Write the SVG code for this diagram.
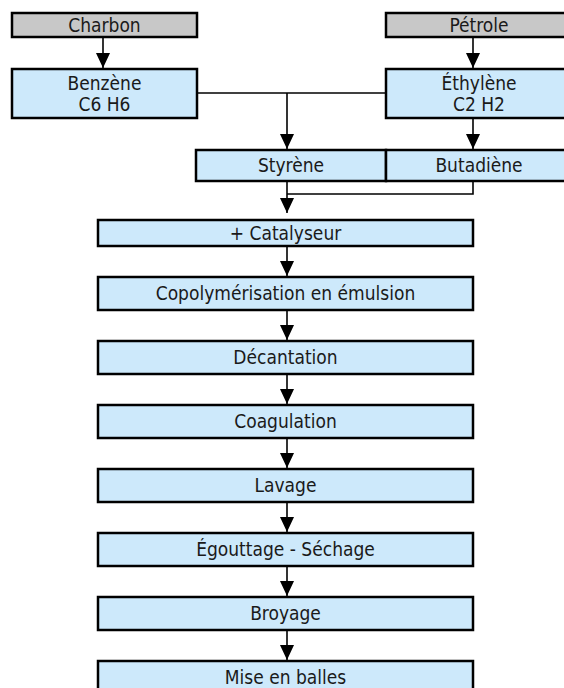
<svg xmlns="http://www.w3.org/2000/svg" width="564" height="688" viewBox="0 0 564 688">
  <style>
    .src { fill: #c8c8c8; stroke: #000; stroke-width: 2.5; }
    .step { fill: #cde9fb; stroke: #000; stroke-width: 2.5; }
    .lbl { font-family: "DejaVu Sans Condensed", "DejaVu Sans", "Liberation Sans", sans-serif; font-stretch: condensed; font-size: 19px; fill: #1a1a1a; text-anchor: middle; }
    .wire { fill: none; stroke: #000; stroke-width: 1.6; }
    .flow { fill: none; stroke: #000; stroke-width: 1.6; marker-end: url(#head); }
  </style>
  <defs>
    <marker id="head" markerUnits="userSpaceOnUse" markerWidth="15" markerHeight="14" refX="15" refY="7" orient="auto">
      <path d="M0,0 L15,7 L0,14 Z" fill="#000"/>
    </marker>
  </defs>
  <rect width="564" height="688" fill="#fff"/>

  <!-- connectors -->
  <g id="connectors">
    <path class="flow" d="M103,37 V68"/>
    <path class="flow" d="M473,37 V68"/>
    <path class="wire" d="M197,93 H386"/>
    <path class="flow" d="M287,93 V149"/>
    <path class="flow" d="M473,118 V149"/>
    <path class="wire" d="M473,181 V194 H287"/>
    <path class="flow" d="M287,181 V213"/>
    <path class="flow" d="M287,246 V276"/>
    <path class="flow" d="M287,310 V340"/>
    <path class="flow" d="M287,374 V404"/>
    <path class="flow" d="M287,438 V468"/>
    <path class="flow" d="M287,502 V532"/>
    <path class="flow" d="M287,566 V596"/>
    <path class="flow" d="M287,630 V660"/>
  </g>

  <!-- raw materials -->
  <g id="charbon">
    <rect class="src" x="12" y="13" width="185" height="24"/>
    <text class="lbl" x="104.5" y="32">Charbon</text>
  </g>
  <g id="petrole">
    <rect class="src" x="386" y="13" width="186" height="24"/>
    <text class="lbl" x="479" y="32">Pétrole</text>
  </g>

  <!-- intermediates -->
  <g id="benzene">
    <rect class="step" x="12" y="69" width="185" height="49"/>
    <text class="lbl" x="104.5" y="90">Benzène</text>
    <text class="lbl" x="104.5" y="111">C6 H6</text>
  </g>
  <g id="ethylene">
    <rect class="step" x="386" y="69" width="186" height="49"/>
    <text class="lbl" x="479" y="90">Éthylène</text>
    <text class="lbl" x="479" y="111">C2 H2</text>
  </g>
  <g id="styrene">
    <rect class="step" x="196" y="150" width="190" height="31"/>
    <text class="lbl" x="291" y="172">Styrène</text>
  </g>
  <g id="butadiene">
    <rect class="step" x="386" y="150" width="186" height="31"/>
    <text class="lbl" x="479" y="172">Butadiène</text>
  </g>

  <!-- process chain -->
  <g id="catalyseur">
    <rect class="step" x="98" y="220" width="375" height="26"/>
    <text class="lbl" x="285.5" y="240">+ Catalyseur</text>
  </g>
  <g id="copolymerisation">
    <rect class="step" x="98" y="277" width="375" height="33"/>
    <text class="lbl" x="285.5" y="300">Copolymérisation en émulsion</text>
  </g>
  <g id="decantation">
    <rect class="step" x="98" y="341" width="375" height="33"/>
    <text class="lbl" x="285.5" y="364">Décantation</text>
  </g>
  <g id="coagulation">
    <rect class="step" x="98" y="405" width="375" height="33"/>
    <text class="lbl" x="285.5" y="428">Coagulation</text>
  </g>
  <g id="lavage">
    <rect class="step" x="98" y="469" width="375" height="33"/>
    <text class="lbl" x="285.5" y="492">Lavage</text>
  </g>
  <g id="egouttage">
    <rect class="step" x="98" y="533" width="375" height="33"/>
    <text class="lbl" x="285.5" y="556">Égouttage - Séchage</text>
  </g>
  <g id="broyage">
    <rect class="step" x="98" y="597" width="375" height="33"/>
    <text class="lbl" x="285.5" y="620">Broyage</text>
  </g>
  <g id="mise-en-balles">
    <rect class="step" x="98" y="661" width="375" height="33"/>
    <text class="lbl" x="285.5" y="684">Mise en balles</text>
  </g>
</svg>
